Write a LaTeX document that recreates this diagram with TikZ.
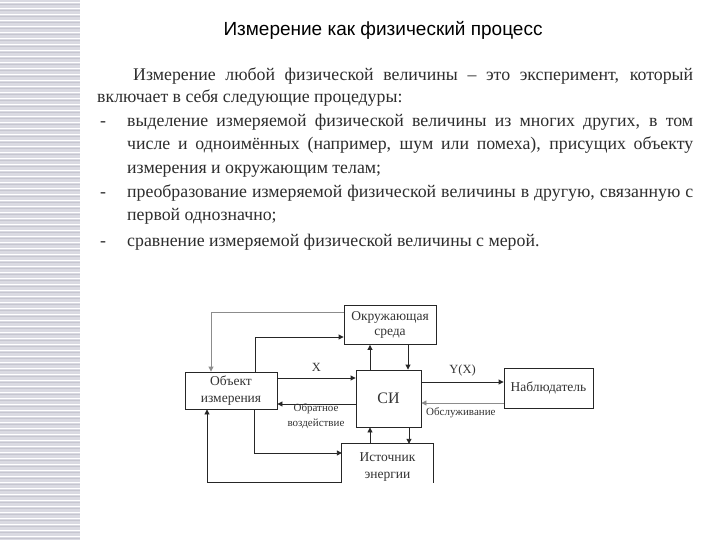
\documentclass[tikz,border=0pt]{standalone}
\usepackage{fontspec}
\setmainfont{Liberation Serif}
\newfontfamily\titlefont{Liberation Sans}
\usetikzlibrary{arrows.meta}
\definecolor{stripe}{RGB}{218,218,226}
\definecolor{stripedark}{RGB}{198,198,208}
\definecolor{bodytext}{RGB}{45,45,45}
\begin{document}
\begin{tikzpicture}[x=1pt,y=-1pt,
  box/.style={draw=black!85, line width=0.9pt, inner sep=0pt, align=center,
    font=\fontsize{13.5}{15}\selectfont, text=black!80},
  body/.style={anchor=base west, inner sep=0pt, text=bodytext,
    font=\fontsize{17.8}{20}\selectfont},
  conn/.style={draw=black!85, line width=0.9pt, -{Triangle[length=5pt,width=5pt]}},
  gconn/.style={draw=black!45, line width=0.9pt, -{Triangle[length=5pt,width=5pt]}},
  lbl/.style={inner sep=0pt, text=black!80, font=\fontsize{12.5}{13}\selectfont},
  slbl/.style={inner sep=0pt, text=black!80, align=center, font=\fontsize{11}{14.5}\selectfont}]
\useasboundingbox (0,0) rectangle (720,540);
\fill[white] (0,0) rectangle (720,540);
% left stripe
\fill[stripe] (0,0) rectangle (80,540);
\foreach \y in {0,6,...,540} {
  \draw[white, line width=0.7pt] (0,\y+2) -- (80,\y+2);
  \draw[stripedark, line width=0.5pt] (0,\y+4.5) -- (80,\y+4.5);
}
% title
\node[inner sep=0pt, anchor=base] (title) at (383,36) {\titlefont\fontsize{19}{21}\selectfont Измерение как физический процесс};
% body text
\node[body] (l1) at (133,81) {\makebox[560pt][s]{Измерение любой физической величины – это эксперимент, который}};
\node[body] (l2) at (97,103) {включает в себя следующие процедуры:};
\node[body] (d1) at (100,127) {-};
\node[body] (l3) at (127,127) {\makebox[566pt][s]{выделение измеряемой физической величины из многих других, в том}};
\node[body] (l4) at (127,150) {\makebox[566pt][s]{числе и одноимённых (например, шум или помеха), присущих объекту}};
\node[body] (l5) at (127,174) {измерения и окружающим телам;};
\node[body] (d2) at (100,198) {-};
\node[body] (l6) at (127,198) {\makebox[566pt][s]{преобразование измеряемой физической величины в другую, связанную с}};
\node[body] (l7) at (127,221) {первой однозначно;};
\node[body] (d3) at (100,246) {-};
\node[body] (l8) at (127,246) {сравнение измеряемой физической величины с мерой.};
% boxes
\node[box, minimum width=92pt, minimum height=39pt] (env) at (390,325) {Окружающая\\среда};
\node[box, minimum width=65pt, minimum height=57pt, font=\fontsize{16}{18}\selectfont] (si) at (388.5,398.5) {СИ};
\node[box, minimum width=92pt, minimum height=37pt, font=\fontsize{13.5}{17}\selectfont] (obj) at (231,390.5) {Объект\\измерения};
\node[box, minimum width=89pt, minimum height=40pt] (obs) at (548.5,388) {Наблюдатель};
\node[inner sep=0pt, minimum width=91pt, minimum height=39pt, align=center,
  font=\fontsize{13.5}{17}\selectfont, text=black!80] (src) at (387.5,463.5) {};
\node[inner sep=0pt, align=center, font=\fontsize{13.5}{17}\selectfont, text=black!80] (srct) at (387.5,467) {Источник\\энергии};
\draw[black!85, line width=0.9pt] (src.south west) -- (src.north west) -- (src.north east) -- (src.south east);
% connectors
\coordinate (g1) at (211,312);
\draw[gconn] (env.west |- g1) -- (g1) -- (obj.north -| g1);
\coordinate (c2) at (255,337);
\draw[conn] (obj.north -| c2) -- (c2) -- (env.west |- c2);
\draw[conn] (obj.east |- 0,378) -- node[lbl, above=6pt] (xl) {X} (si.west |- 0,378);
\draw[conn] (si.west |- 0,404) -- (obj.east |- 0,404);
\node[slbl] (back) at (316,416) {Обратное\\воздействие};
\draw[conn] (si.north -| 370,0) -- (env.south -| 370,0);
\draw[conn] (env.south -| 408,0) -- (si.north -| 408,0);
\draw[conn] (src.north -| 370,0) -- (si.south -| 370,0);
\draw[conn] (si.south -| 409,0) -- (src.north -| 409,0);
\coordinate (c9) at (254,453);
\draw[conn] (obj.south -| c9) -- (c9) -- (src.west |- c9);
\coordinate (c10) at (207,482);
\draw[conn] (src.west |- c10) -- (c10) -- (obj.south -| c10);
\draw[conn] (si.east |- 0,382) -- node[lbl, above=5pt] (yl) {Y(X)} (obs.west |- 0,382);
\draw[gconn] (obs.west |- 0,403) -- (si.east |- 0,403);
\node[slbl, anchor=west] (serv) at (426,413) {Обслуживание};
\end{tikzpicture}
\end{document}
